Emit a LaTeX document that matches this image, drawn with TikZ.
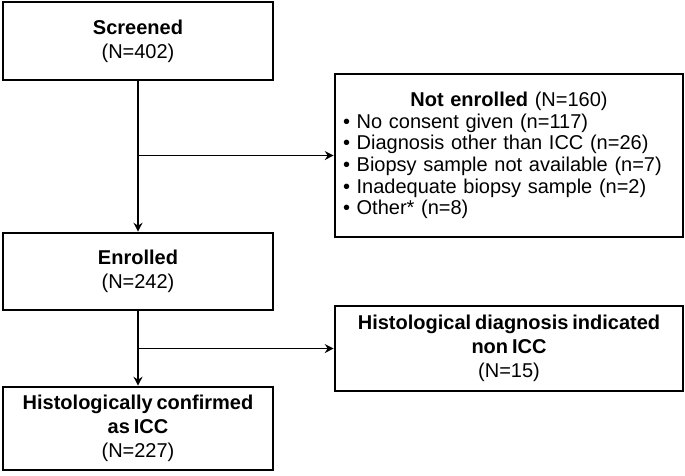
\documentclass[tikz,border=0pt]{standalone}
\usepackage{fontspec}
\setmainfont{Liberation Sans}[WordSpace=0.7]
\usetikzlibrary{arrows.meta}

\begin{document}
\begin{tikzpicture}[x=1pt,y=-1pt,
  flowbox/.style={draw,line width=2.6pt,minimum width=270pt,inner sep=0pt,align=center,font=\fontsize{20}{24}\selectfont},
  sidebox/.style={flowbox,minimum width=348pt},
  flowline/.style={line width=1.2pt,-{Stealth[length=9pt,width=9pt,inset=3pt]}}]
\useasboundingbox (0,0) rectangle (685,475);
% left column
\node[flowbox,minimum height=78pt] (screened) at (138,41) {\textbf{Screened}\\(N=402)};
\node[flowbox,minimum height=77pt] (enrolled) at (138,271.5) {\textbf{Enrolled}\\(N=242)};
\node[flowbox,minimum height=83pt] (confirmed) at (138,428.5) {\textbf{Histologically confirmed}\\\textbf{as ICC}\\(N=227)};
% right column
\node[sidebox,minimum height=163pt,text width=332pt,inner xsep=8pt,align=left,font=\fontsize{20}{21.7}\selectfont] (notenrolled) at (509,155.5)
  {\makebox[\linewidth]{\textbf{Not enrolled} (N=160)}\\
   • No consent given (n=117)\\
   • Diagnosis other than ICC (n=26)\\
   • Biopsy sample not available (n=7)\\
   • Inadequate biopsy sample (n=2)\\
   • Other* (n=8)};
\node[sidebox,minimum height=85pt] (nonicc) at (509,348.5) {\textbf{Histological diagnosis indicated}\\\textbf{non ICC}\\(N=15)};
% connectors
\coordinate (split1) at (screened.south |- notenrolled.west);
\coordinate (split2) at (enrolled.south |- nonicc.west);
\draw[flowline] (screened.south) -- (enrolled.north);
\draw[flowline] (split1) -- (notenrolled.west);
\draw[flowline] (enrolled.south) -- (confirmed.north);
\draw[flowline] (split2) -- (nonicc.west);
\end{tikzpicture}
\end{document}
